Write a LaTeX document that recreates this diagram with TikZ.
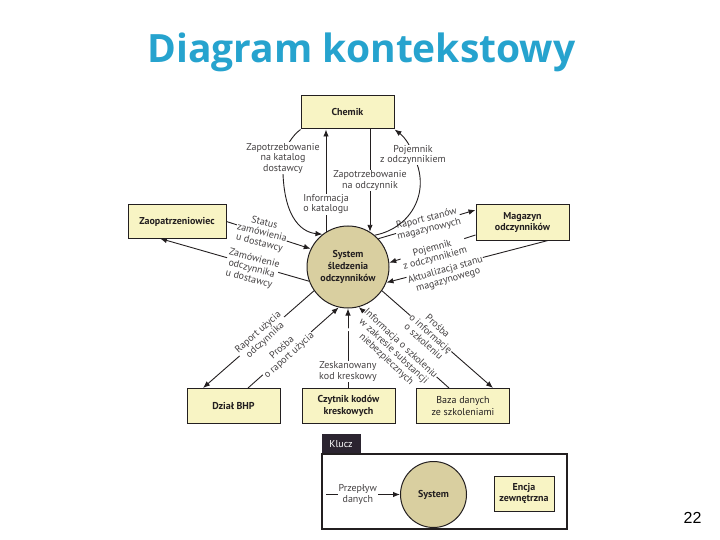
\documentclass[tikz,border=0pt]{standalone}
\usepackage{fontspec}
\setmainfont{PT Sans}
\newfontfamily\titlefont{Open Sans}
\newfontfamily\numfont{Liberation Sans}
\usepackage{xcolor}
\usepackage{tikz}
\usetikzlibrary{arrows.meta}
\pgfdeclarelayer{bg}
\pgfsetlayers{bg,main}
\definecolor{boxfill}{RGB}{248,244,196}
\definecolor{sysfill}{RGB}{217,207,160}
\definecolor{ink}{RGB}{35,31,32}
\definecolor{titleblue}{RGB}{38,163,206}
\definecolor{keytab}{RGB}{43,36,48}

\begin{document}
\begin{tikzpicture}[x=1pt,y=-1pt,>={Latex[length=7pt,width=5.5pt]},
   font=\fontsize{10}{10.5}\selectfont,
   box/.style={draw=ink,fill=boxfill,line width=1pt,minimum width=93pt,minimum height=35pt,
     inner sep=1pt,align=center,text=ink,font=\fontsize{10}{11.5}\selectfont\bfseries},
   proc/.style={circle,draw=ink,fill=sysfill,line width=1pt,minimum size=82pt,inner sep=0pt,
     align=center,text=ink,font=\fontsize{10}{12}\selectfont\bfseries},
   lbl/.style={fill=white,inner sep=0.5pt,align=center,text=ink!85},
   flow/.style={->,draw=ink,line width=0.9pt}]
  \useasboundingbox (0,0) rectangle (720,540);
  \node[anchor=base,text=titleblue,font=\titlefont\fontsize{39}{39}\selectfont\bfseries] (title) at (361.5,63) {Diagram kontekstowy};
  \node[box,minimum height=33pt] (chem) at (347.5,112.5) {Chemik};
  \node[box,minimum width=98pt,minimum height=33pt] (zaop) at (177,221.5) {Zaopatrzeniowiec};
  \node[box] (mag) at (522.5,222.5) {Magazyn\\odczynników};
  \node[box] (bhp) at (233.5,406) {Dział BHP};
  \node[box] (czyt) at (348.5,406) {Czytnik kodów\\kreskowych};
  \node[box,font=\fontsize{10}{11.5}\selectfont] (baza) at (463,406) {Baza danych\\ze szkoleniami};
  \node[proc] (sys) at (348,267) {System\\śledzenia\\odczynników};

  \begin{pgfonlayer}{bg}
  \draw[flow] (sys.43) -- ([yshift=12.5pt]mag.west) node[lbl,rotate=14,pos=0.51] {Raport stanów\\magazynowych};
  \draw[flow] ([yshift=-12.5pt]mag.west) -- (sys.6) node[lbl,rotate=15,yshift=-5pt,pos=0.5] {Pojemnik\\z odczynnikiem};
  \draw[flow] ([xshift=25.5pt]mag.south) -- (sys.-22) node[lbl,rotate=16,yshift=-8pt,pos=0.64] {Aktualizacja stanu\\magazynowego};
  \draw[flow] (zaop.east) -- (sys.154) node[lbl,rotate=-14,pos=0.42] {Status\\zamówienia\\u dostawcy};
  \draw[flow] (sys.200) -- ([xshift=-17pt]zaop.south) node[lbl,yshift=-4pt,rotate=-15,pos=0.385] {Zamówienie\\odczynnika\\u dostawcy};
  \draw[flow] (sys.215) -- ([xshift=-30.5pt]bhp.north) node[lbl,rotate=42,pos=0.47] {Raport użycia\\odczynnika};
  \draw[flow] ([xshift=14.5pt]bhp.north) -- (sys.257) node[lbl,rotate=42,yshift=2pt,pos=0.43] {Prośba\\o raport użycia};
  \draw[flow] (sys.south |- czyt.north) -- (sys.south) node[lbl,pos=0.21] {Zeskanowany\\kod kreskowy};
  \draw[flow] ([xshift=-14pt]baza.north) -- (sys.285) node[lbl,rotate=-43,yshift=-10pt,pos=0.54] {Informacja o szkoleniu\\w zakresie substancji\\niebezpiecznych};
  \draw[flow] (sys.-35) -- ([xshift=30pt]baza.north) node[lbl,rotate=-42,pos=0.44] {Prośba\\o informację\\o szkoleniu};
  \draw[flow] (sys.58 |- chem.south) -- (sys.58) node[lbl,pos=0.5] {Zapotrzebowanie\\na odczynnik};
  \draw[flow] (sys.122.5) -- (sys.122.5 |- chem.south) node[lbl,pos=0.27] {Informacja\\o katalogu};
  \draw[flow] (chem.south west) .. controls (292,136) and (285,147) .. (283,158) node[lbl] {Zapotrzebowanie\\na katalog\\dostawcy}
    .. controls (281,215) and (300,232) .. (sys.128);
  \draw[flow] (sys.50) .. controls (412,228) and (432,190) .. (413,155) node[lbl] {Pojemnik\\z odczynnikiem}
    .. controls (410,143) and (402,135) .. (chem.south east);
  \end{pgfonlayer}

  \node[draw=ink,line width=1.3pt,minimum width=245pt,minimum height=75pt] (key) at (444.5,491.5) {};
  \node[anchor=south west,fill=keytab,text=white,minimum width=39pt,minimum height=19pt,inner sep=0pt] (klucz) at (key.north west) {Klucz};
  \node[proc,minimum size=66pt] (ksys) at (433.5,494.5) {System};
  \node[box,minimum width=60pt] (kent) at (524,493.5) {Encja\\zewnętrzna};
  \coordinate (kin) at (326,494.5);
  \draw[flow] (kin) -- (ksys.west) node[lbl,pos=0.43] {Przepływ\\danych};
  \node[font=\numfont\fontsize{16}{16}\selectfont] (pg) at (692.5,517.5) {22};
\end{tikzpicture}
\end{document}
